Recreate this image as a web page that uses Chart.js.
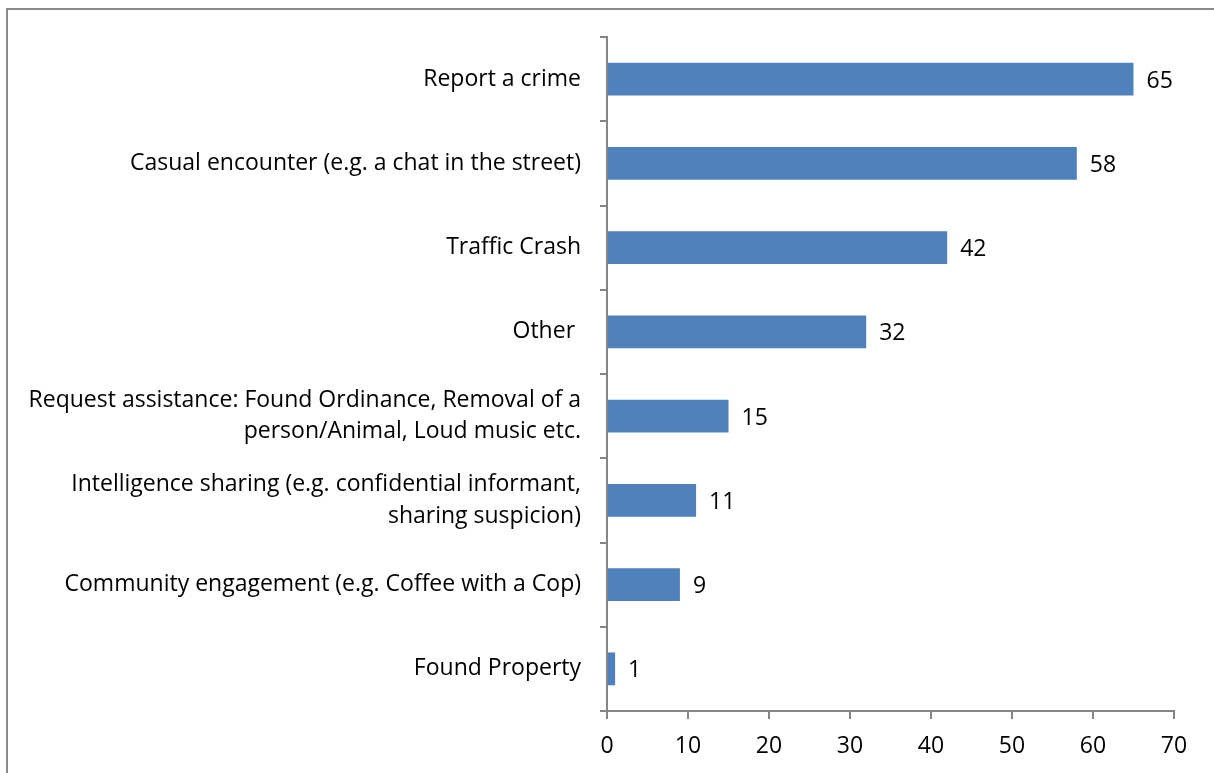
<!DOCTYPE html>
<html>
<head>
<meta charset="utf-8">
<script src="https://cdn.jsdelivr.net/npm/chart.js@4"></script>
<style>
html,body{margin:0;padding:0;background:#fff;}
#wrap{position:absolute;left:0;top:0;width:1214px;height:773px;}
#frame{position:absolute;left:6px;top:8px;width:1300px;height:900px;border-left:2px solid #8a8a8a;border-top:2px solid #8a8a8a;pointer-events:none;}
canvas{display:block;}
</style>
</head>
<body>
<div id="wrap"><canvas id="c" width="1214" height="773"></canvas><div id="frame"></div></div>
<script>
const categories = [
  "Report a crime",
  "Casual encounter (e.g. a chat in the street)",
  "Traffic Crash",
  "Other ",
  ["Request assistance: Found Ordinance, Removal of a", "person/Animal, Loud music etc."],
  ["Intelligence sharing (e.g. confidential informant,", "sharing suspicion)"],
  "Community engagement (e.g. Coffee with a Cop)",
  "Found Property"
];
const values = [65, 58, 42, 32, 15, 11, 9, 1];
const xTicks = [0, 10, 20, 30, 40, 50, 60, 70];

const FONT = "'Open Sans'";
const FS = 23;

const valueLabels = {
  id: 'valueLabels',
  afterDatasetsDraw(chart) {
    const ctx = chart.ctx;
    const meta = chart.getDatasetMeta(0);
    ctx.save();
    ctx.font = FS + 'px ' + FONT;
    ctx.fillStyle = '#000';
    ctx.textAlign = 'left';
    ctx.textBaseline = 'middle';
    meta.data.forEach((el, i) => {
      ctx.fillText(String(values[i]), el.x + 13, el.y + 2);
    });
    ctx.restore();
  }
};

new Chart(document.getElementById('c'), {
  type: 'bar',
  data: {
    labels: categories,
    datasets: [{
      data: values,
      backgroundColor: '#4F81BD',
      borderWidth: 0,
      barPercentage: 1,
      categoryPercentage: 0.39
    }]
  },
  options: {
    indexAxis: 'y',
    responsive: false,
    animation: false,
    devicePixelRatio: 1,
    layout: { padding: { top: 37, right: 40, left: 0, bottom: 0 } },
    plugins: { legend: { display: false }, tooltip: { enabled: false } },
    scales: {
      x: {
        min: 0, max: 70,
        afterBuildTicks(scale) { scale.ticks = xTicks.map(v => ({ value: v })); },
        afterFit(scale) { scale.height = 62; },
        grid: { drawOnChartArea: false, drawTicks: true, tickLength: 8, color: '#868686', lineWidth: 2 },
        border: { color: '#868686', width: 2 },
        ticks: { color: '#000', font: { family: FONT, size: FS }, padding: 14, maxRotation: 0 }
      },
      y: {
        afterFit(scale) { scale.width = 607; },
        grid: { drawOnChartArea: false, drawTicks: true, tickLength: 7, color: '#868686', lineWidth: 2 },
        border: { color: '#868686', width: 2 },
        ticks: { color: '#000', font: { family: FONT, size: FS, lineHeight: 1.37 }, padding: 19, autoSkip: false }
      }
    }
  },
  plugins: [valueLabels]
});
</script>
</body>
</html>
